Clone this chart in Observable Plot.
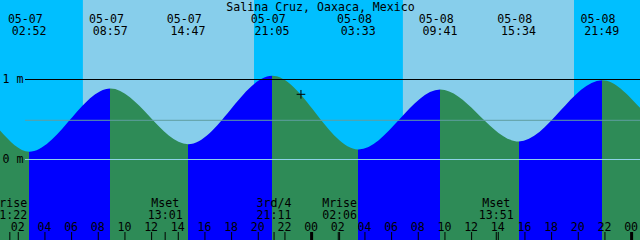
<!DOCTYPE html>
<html><head><meta charset="utf-8">
<script src="https://cdn.jsdelivr.net/npm/d3@7"></script>
<script src="https://cdn.jsdelivr.net/npm/@observablehq/plot@0.6"></script>
<style>html,body{margin:0;padding:0;background:#fff;} svg{display:block;}</style>
</head><body><div id="chart"></div>
<script>
// ---- data ----
const stationName = "Salina Cruz, Oaxaca, Mexico";
const windowStart = "2025-05-07T00:40";
const windowEnd = "2025-05-09T00:40";
const edgeHeights = [0.356, 0.64]; // water level at left / right edge (m)

const tideTimes = ["2025-05-07T02:52","2025-05-07T08:57","2025-05-07T14:47","2025-05-07T21:05",
                   "2025-05-08T03:33","2025-05-08T09:41","2025-05-08T15:34","2025-05-08T21:49"];
const tideKinds = ["low","high","low","high","low","high","low","high"];
const tideHeights = [0.09, 0.88, 0.185, 1.04, 0.12, 0.87, 0.22, 0.985];
const tideDateLabels = ["05-07","05-07","05-07","05-07","05-08","05-08","05-08","05-08"];
const tideTimeLabels = ["02:52","08:57","14:47","21:05","03:33","09:41","15:34","21:49"];

const sunriseTimes = ["2025-05-07T06:53","2025-05-08T06:53"];
const sunsetTimes = ["2025-05-07T19:43","2025-05-08T19:43"];

const moonEventTimes = ["2025-05-07T01:22","2025-05-07T13:01","2025-05-07T21:11","2025-05-08T02:06","2025-05-08T13:51"];
const moonEventNames = ["Mrise","Mset","3rd/4","Mrise","Mset"];
const moonEventLabels = ["01:22","13:01","21:11","02:06","13:51"];

const hourTickTimes = [
  "2025-05-07T02:00","2025-05-07T04:00","2025-05-07T06:00","2025-05-07T08:00","2025-05-07T10:00","2025-05-07T12:00",
  "2025-05-07T14:00","2025-05-07T16:00","2025-05-07T18:00","2025-05-07T20:00","2025-05-07T22:00","2025-05-08T00:00",
  "2025-05-08T02:00","2025-05-08T04:00","2025-05-08T06:00","2025-05-08T08:00","2025-05-08T10:00","2025-05-08T12:00",
  "2025-05-08T14:00","2025-05-08T16:00","2025-05-08T18:00","2025-05-08T20:00","2025-05-08T22:00","2025-05-09T00:00"];
const hourTickLabels = ["02","04","06","08","10","12","14","16","18","20","22","00",
                        "02","04","06","08","10","12","14","16","18","20","22","00"];

const levelValues = [1, 0.49, 0];
const levelLabels = ["1 m", "", "0 m"];

const markerTime = "2025-05-07T23:12";
const markerHeight = 0.815;

// ---- styles ----
const colors = {night: "#00BFFF", day: "#87CEEB", rise: "#0000FF", fall: "#2E8B57"};
const levelColors = ["#000000", "#5f9ea0", "#8ed2e8"];

// ---- build tables ----
const parse = s => new Date(s + ":00Z");
const t0 = parse(windowStart), t1 = parse(windowEnd);
const tides = tideTimes.map((s, i) => ({t: parse(s), h: tideHeights[i], kind: tideKinds[i],
  date: tideDateLabels[i], time: tideTimeLabels[i]}));
const curve = [{t: t0, h: edgeHeights[0]}, ...tides, {t: t1, h: edgeHeights[1]}];
const segments = [];
for (let i = 0; i < curve.length - 1; i++) {
  const end = curve[i + 1];
  const rising = end.kind ? end.kind === "high" : tides[tides.length - 1].kind === "low";
  segments.push({a: curve[i].t, b: end.t, color: rising ? colors.rise : colors.fall});
}
const days = sunriseTimes.map((s, i) => ({rise: parse(s), set: parse(sunsetTimes[i])}));
const moon = moonEventTimes.map((s, i) => ({t: parse(s), label: moonEventNames[i] + "\n" + moonEventLabels[i]}));
const hours = hourTickTimes.map((s, i) => ({t: parse(s), label: hourTickLabels[i]}));
const levels = levelValues.map((v, i) => ({v, label: levelLabels[i], color: levelColors[i]}));
const yDomain = [-81 / 80, 159 / 80];

const font = "11.6px";
const plot = Plot.plot({
  width: 640, height: 240, margin: 0,
  x: {type: "utc", domain: [t0, t1], axis: null},
  y: {domain: yDomain, axis: null},
  style: {background: colors.night, fontFamily: "'DejaVu Sans Mono', monospace", fontSize: font, color: "black", overflow: "hidden"},
  marks: [
    Plot.rect(days, {x1: "rise", x2: "set", fill: colors.day}),
    Plot.areaY(curve, {x: "t", y1: yDomain[0], y2: "h", curve: "monotone-x", fill: "url(#tideFill)"}),
    Plot.ruleY(levels, {y: "v", stroke: "color", insetLeft: 25}),
    Plot.text(levels, {y: "v", text: "label", frameAnchor: "left", textAnchor: "start", dx: 2, lineAnchor: "middle", fill: "black"}),
    Plot.text([stationName], {text: d => d, frameAnchor: "top", lineAnchor: "bottom", dy: 10, fill: "black"}),
    Plot.text(tides, {x: "t", text: "date", frameAnchor: "top", lineAnchor: "bottom", dy: 22, dx: -4.5, fill: "black"}),
    Plot.text(tides, {x: "t", text: "time", frameAnchor: "top", lineAnchor: "bottom", dy: 34, dx: -0.7, fill: "black"}),
    Plot.ruleX(hours, {x: "t", insetTop: 232, stroke: "black", strokeWidth: d => d.label === "00" ? 3 : 1}),
    Plot.ruleX(moon, {x: "t", insetTop: 232, stroke: "black"}),
    Plot.text(hours, {x: "t", text: "label", frameAnchor: "bottom", lineAnchor: "bottom", dy: -10, dx: -0.5, fill: "black"}),
    Plot.text(moon, {x: "t", text: "label", frameAnchor: "bottom", lineAnchor: "bottom", dy: -22, lineHeight: 12 / 11.6, fill: "black"}),
    Plot.dot([{t: parse(markerTime), h: markerHeight}], {x: "t", y: "h", symbol: "plus", r: 2.9, stroke: "black", strokeWidth: 1})
  ]
});

// gradient for rising / falling water, positioned through Plot's x scale
const xs = plot.scale("x");
const W = 640;
const defs = d3.select(plot).insert("defs", ":first-child");
const grad = defs.append("linearGradient").attr("id", "tideFill")
  .attr("gradientUnits", "userSpaceOnUse").attr("x1", 0).attr("x2", W).attr("y1", 0).attr("y2", 0);
segments.forEach(s => {
  grad.append("stop").attr("offset", Math.max(0, xs.apply(s.a) / W)).attr("stop-color", s.color);
  grad.append("stop").attr("offset", Math.min(1, xs.apply(s.b) / W)).attr("stop-color", s.color);
});

document.getElementById("chart").appendChild(plot);
</script>
</body></html>
